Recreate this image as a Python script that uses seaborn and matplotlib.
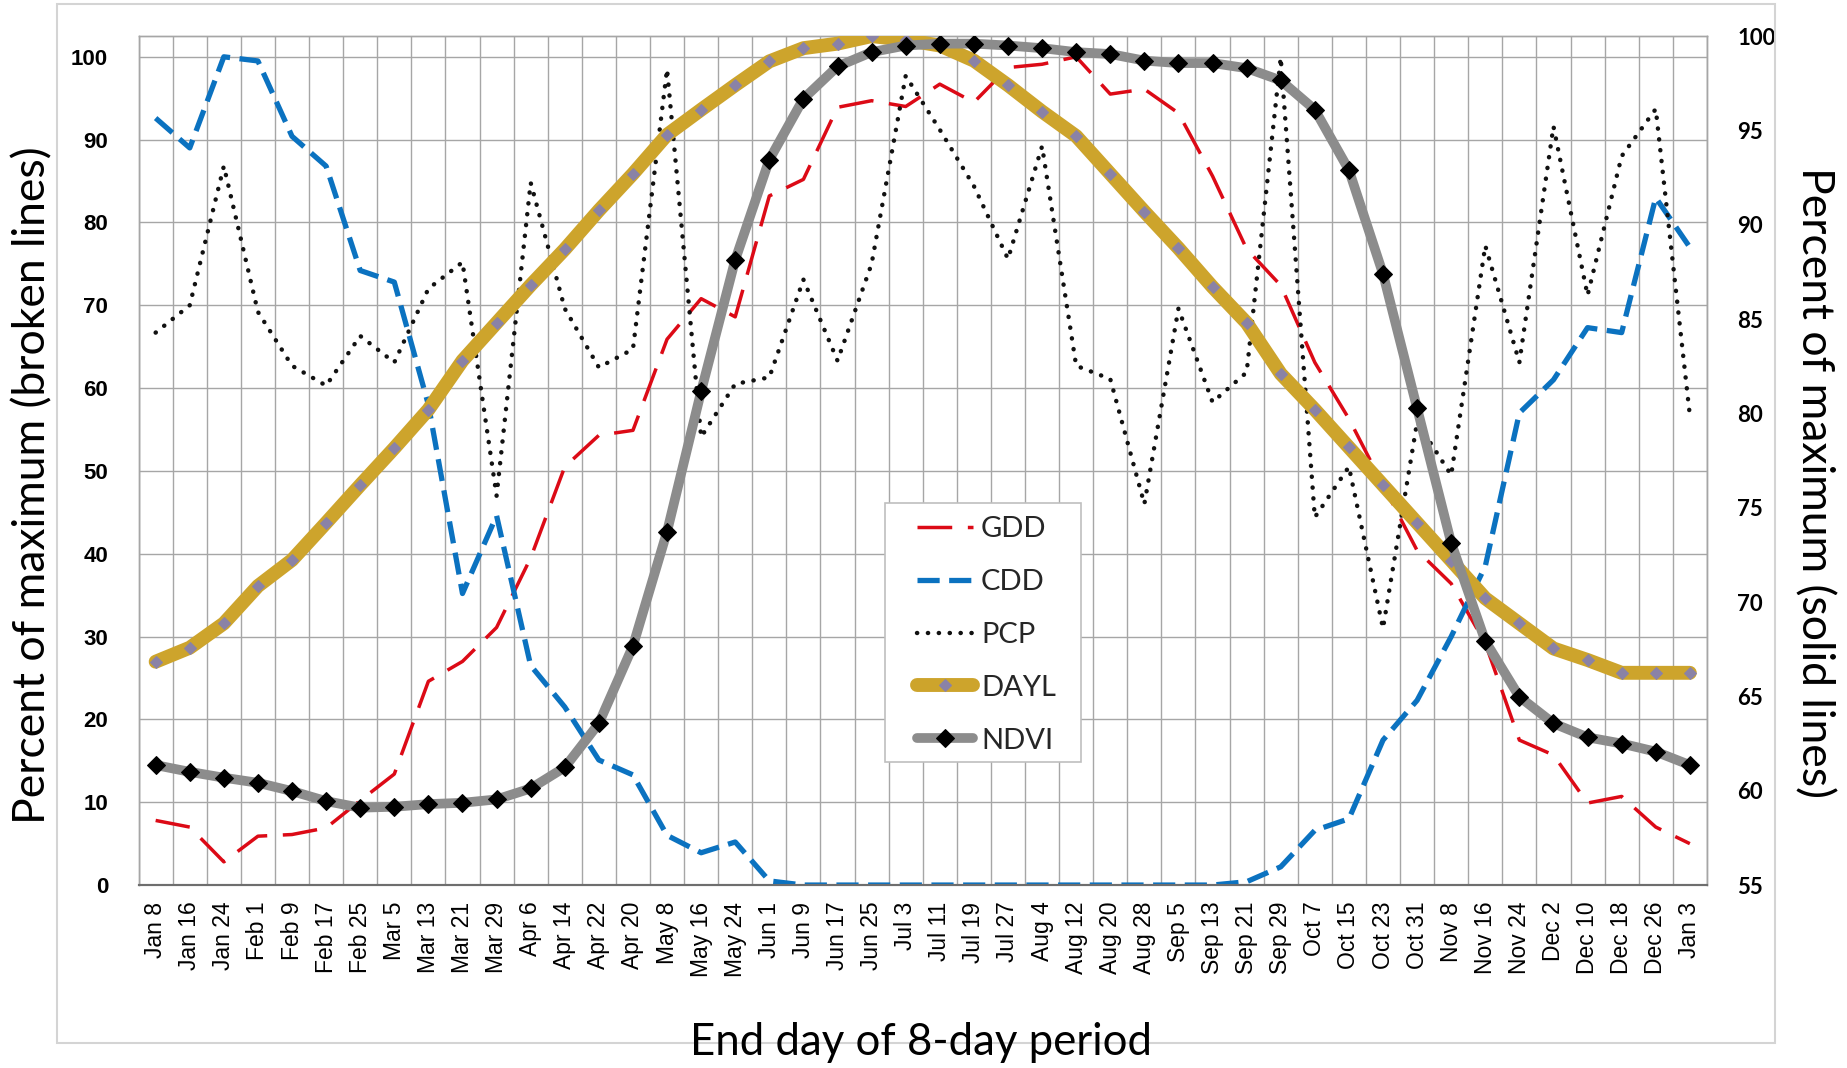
import numpy as np
import pandas as pd
import matplotlib
matplotlib.use("Agg")
import matplotlib.pyplot as plt
from matplotlib.patches import Rectangle
from matplotlib import font_manager
import seaborn as sns

categories = ["Jan 8", "Jan 16", "Jan 24", "Feb 1", "Feb 9", "Feb 17", "Feb 25", "Mar 5",
              "Mar 13", "Mar 21", "Mar 29", "Apr 6", "Apr 14", "Apr 22", "Apr 20", "May 8",
              "May 16", "May 24", "Jun 1", "Jun 9", "Jun 17", "Jun 25", "Jul 3", "Jul 11",
              "Jul 19", "Jul 27", "Aug 4", "Aug 12", "Aug 20", "Aug 28", "Sep 5", "Sep 13",
              "Sep 21", "Sep 29", "Oct 7", "Oct 15", "Oct 23", "Oct 31", "Nov 8", "Nov 16",
              "Nov 24", "Dec 2", "Dec 10", "Dec 18", "Dec 26", "Jan 3"]

gdd = [7.8, 7.0, 2.8, 5.9, 6.1, 6.9, 10.2, 13.4, 24.6, 27.0, 31.1, 39.5, 50.5, 54.3, 54.9,
       65.9, 70.8, 68.6, 83.2, 85.2, 93.9, 94.7, 94.0, 96.7, 94.5, 98.7, 99.1, 100.0, 95.5,
       96.1, 93.2, 85.6, 76.8, 72.4, 63.1, 56.3, 48.3, 40.4, 36.4, 29.2, 17.5, 15.7, 9.9,
       10.7, 7.0, 5.0]

cdd = [92.6, 89.0, 100.0, 99.5, 90.4, 86.8, 74.2, 72.8, 58.0, 35.2, 44.6, 26.5, 21.5, 15.1,
       13.3, 6.0, 3.9, 5.2, 0.5, 0.0, 0.0, 0.0, 0.0, 0.0, 0.0, 0.0, 0.0, 0.0, 0.0, 0.0, 0.0,
       0.0, 0.4, 2.2, 6.6, 8.0, 17.5, 22.3, 30.0, 38.5, 57.0, 61.0, 67.3, 66.7, 83.0, 77.0]

pcp = [66.7, 70.0, 86.8, 69.2, 62.7, 60.3, 66.3, 63.1, 72.0, 75.2, 47.0, 84.8, 69.6, 62.5,
       64.7, 98.5, 54.1, 60.5, 61.3, 73.1, 63.3, 75.0, 97.7, 91.2, 84.4, 75.6, 89.2, 62.7,
       61.1, 46.0, 69.6, 58.3, 61.9, 99.9, 44.4, 50.5, 31.0, 55.9, 49.5, 77.2, 63.1, 91.6,
       71.2, 88.0, 93.7, 56.7]

dayl = [66.84, 67.58, 68.87, 70.85, 72.23, 74.2, 76.2, 78.16, 80.2, 82.8, 84.8, 86.8, 88.7,
        90.76, 92.7, 94.77, 96.1, 97.4, 98.66, 99.36, 99.6, 100.0, 99.8, 99.5, 98.7, 97.4,
        96.0, 94.7, 92.7, 90.7, 88.76, 86.7, 84.8, 82.1, 80.2, 78.2, 76.2, 74.2, 72.2, 70.2,
        68.87, 67.54, 66.93, 66.25, 66.25, 66.25]

ndvi = [61.36, 61.0, 60.69, 60.42, 59.98, 59.45, 59.10, 59.15, 59.29, 59.36, 59.54, 60.12,
        61.24, 63.57, 67.67, 73.73, 81.17, 88.14, 93.45, 96.68, 98.39, 99.15, 99.5, 99.6,
        99.6, 99.5, 99.36, 99.15, 99.05, 98.7, 98.57, 98.57, 98.3, 97.65, 96.1, 92.9, 87.4,
        80.28, 73.14, 67.93, 64.98, 63.57, 62.83, 62.5, 62.07, 61.36]

left_ticks = list(range(0, 101, 10))
right_ticks = list(range(55, 101, 5))

sns.set_theme(style="white")
plt.rcParams["font.family"] = ["Lato", "DejaVu Sans"]

installed = {f.name for f in font_manager.fontManager.ttflist}
xtick_family = "Liberation Sans Narrow" if "Liberation Sans Narrow" in installed else "Liberation Sans"
xtick_size = 17.5 if xtick_family == "Liberation Sans Narrow" else 16.5

df = pd.DataFrame({"pos": np.arange(len(categories)), "GDD": gdd, "CDD": cdd,
                   "PCP": pcp, "DAYL": dayl, "NDVI": ndvi})

fig = plt.figure(figsize=(18.47, 10.68), dpi=100)
fig.patch.set_facecolor("white")
ax = fig.add_axes([0.07504, 0.1713, 0.8491, 0.7949])
ax2 = ax.twinx()

grid_c = "#a6a6a6"

sns.lineplot(data=df, x="pos", y="GDD", ax=ax, color="#DC0A16", lw=2.5,
             linestyle=(0, (10, 4.5)), estimator=None, label="GDD", zorder=3)
sns.lineplot(data=df, x="pos", y="CDD", ax=ax, color="#0B72C0", lw=3.8,
             linestyle=(0, (4.2, 1.8)), estimator=None, label="CDD", zorder=3)
sns.lineplot(data=df, x="pos", y="PCP", ax=ax, color="#111111", lw=3.2,
             linestyle=(0, (0.05, 2.4)), dash_capstyle="round", estimator=None,
             label="PCP", zorder=3)

sns.lineplot(data=df, x="pos", y="DAYL", ax=ax2, color="#CDA42C", lw=10,
             marker="D", markersize=6, markerfacecolor="#8A82A6",
             markeredgecolor="#8A82A6", estimator=None, label="DAYL", zorder=3,
             solid_capstyle="round")
sns.lineplot(data=df, x="pos", y="NDVI", ax=ax2, color="#8C8C8C", lw=7,
             marker="D", markersize=9, markerfacecolor="black",
             markeredgecolor="black", estimator=None, label="NDVI", zorder=4,
             solid_capstyle="round")

n = len(categories)
ax.set_xlim(-0.5, n - 0.5)
ax.set_ylim(0, 102.5)
ax2.set_ylim(55, 100)

ax.set_xticks(np.arange(n))
ax.set_xticklabels(categories, rotation=90, fontsize=xtick_size,
                   fontfamily=[xtick_family, "DejaVu Sans"])
ax.set_xticks(np.arange(-0.5, n, 1), minor=True)
ax.set_yticks(left_ticks)
ax.set_yticklabels([str(t) for t in left_ticks], fontsize=16, fontweight="bold",
                   fontfamily=["Liberation Sans", "DejaVu Sans"])
ax2.set_yticks(right_ticks)
ax2.set_yticklabels([str(t) for t in right_ticks], fontsize=16, fontweight="bold",
                    fontfamily=["Lato", "DejaVu Sans"])

ax.tick_params(axis="x", which="both", length=0, pad=12, colors="black")
ax.tick_params(axis="y", length=0, pad=22, colors="black")
ax2.tick_params(axis="y", length=0, pad=22, colors="black")

ax.grid(axis="y", which="major", color=grid_c, lw=1.0)
ax.grid(axis="x", which="minor", color=grid_c, lw=1.0)
ax.grid(axis="x", which="major", visible=False)
ax.set_axisbelow(True)

for a in (ax, ax2):
    for s in ("top", "left", "right"):
        a.spines[s].set_color(grid_c)
        a.spines[s].set_linewidth(1.0)
    a.spines["bottom"].set_color("#6e6e6e")
    a.spines["bottom"].set_linewidth(1.5)
    a.set_xlabel("")
    a.set_ylabel("")

h1, l1 = ax.get_legend_handles_labels()
h2, l2 = ax2.get_legend_handles_labels()
if ax.get_legend() is not None:
    ax.get_legend().remove()
if ax2.get_legend() is not None:
    ax2.get_legend().remove()

# legend frame drawn separately for exact padding
ax2.add_patch(Rectangle((0.4759, 0.1449), 0.125, 0.305, transform=ax2.transAxes,
                        facecolor="white", edgecolor="#bfbfbf", lw=1.2, zorder=9,
                        clip_on=False))
leg = ax2.legend(h1 + h2, l1 + l2, loc="upper left", bbox_to_anchor=(0.4963, 0.4345),
                 fontsize=21, frameon=False, handlelength=1.92, handletextpad=0.28,
                 labelspacing=0.92, borderpad=0, borderaxespad=0)
leg.set_zorder(10)

fig.text(0.4988, 0.024, "End day of 8-day period", ha="center", va="center",
         fontsize=31.5, color="black")
fig.text(0.0179, 0.546, "Percent of maximum (broken lines)", ha="center", va="center",
         rotation=90, fontsize=32, color="black")
fig.text(0.982, 0.548, "Percent of maximum (solid lines)", ha="center", va="center",
         rotation=-90, fontsize=32, color="black")

fig.patches.append(Rectangle((0.031, 0.0234), 0.930, 0.9726, transform=fig.transFigure,
                             fill=False, edgecolor="#d4d4d4", lw=1.5, zorder=0))

fig.savefig("out.png", dpi=100, facecolor="white")
